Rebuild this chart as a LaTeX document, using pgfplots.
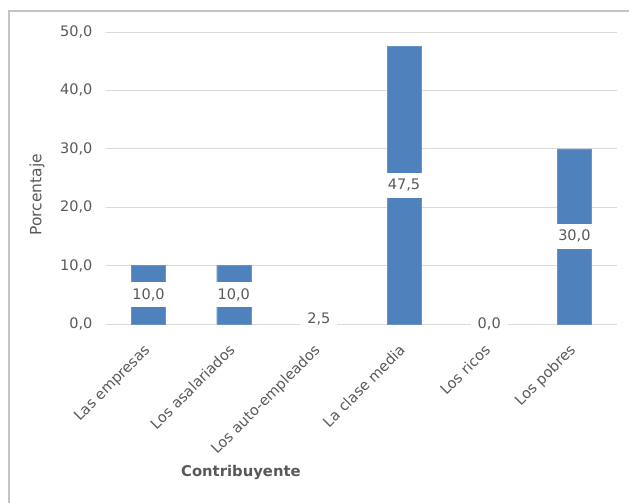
\documentclass[border=0pt]{standalone}
\usepackage{fontspec}
\setmainfont{DejaVu Sans}
\usepackage{pgfplots}
\pgfplotsset{compat=1.18}
\definecolor{barblue}{HTML}{4F81BD}
\definecolor{txtgray}{HTML}{595959}
\definecolor{gridgray}{HTML}{D9D9D9}
\definecolor{framegray}{HTML}{C4C4C4}
\begin{document}
\begin{tikzpicture}
\useasboundingbox (0,0) rectangle (629pt,-503pt);
\draw[framegray, line width=1.5pt] (9pt,-503pt) -- (9pt,-11pt) -- (629pt,-11pt);
\begin{axis}[
  at={(106pt,-324pt)}, anchor=south west,
  width=511pt, height=292pt, scale only axis,
  xmin=-0.5, xmax=5.5, ymin=0, ymax=50,
  clip=false,
  xtick={0,...,5},
  xticklabels={Las empresas, Los asalariados, Los auto-empleados, La clase media, Los ricos, Los pobres},
  ytick={0,10,...,50},
  major tick length=0pt,
  ymajorgrids, grid style={gridgray, line width=1pt},
  axis line style={draw=none},
  /pgf/number format/.cd, fixed, fixed zerofill, precision=1, use comma, assume math mode=true,
  /pgfplots/.cd,
  yticklabel style={font=\fontsize{14.5}{17}\selectfont, text=txtgray, anchor=east, xshift=-10pt},
  xticklabel style={font=\fontsize{14.5}{17}\selectfont, text=txtgray, xshift=2pt, yshift=-27pt, rotate=45, anchor=base east, inner sep=0pt},
  ylabel={Porcentaje},
  ylabel style={font=\fontsize{15.5}{18}\selectfont, text=txtgray, at={(axis description cs:-0.135,0.442)}, anchor=center},
  xlabel={Contribuyente},
  xlabel style={font=\bfseries\fontsize{14.8}{18}\selectfont, text=txtgray, at={(axis description cs:0.264,-0.507)}, anchor=center},
]
\addplot[ybar, bar width=34pt, fill=barblue, draw=barblue!85!white] coordinates {
  (0,10) (1,10) (2,2.5) (3,47.5) (4,0) (5,30)
};
\addplot[draw=none, mark=none, nodes near coords, point meta=explicit symbolic,
  every node near coord/.style={anchor=center, fill=white, text=txtgray,
    font=\fontsize{14.5}{17}\selectfont, inner xsep=5pt, inner ysep=0pt,
    minimum height=25pt, minimum width=37pt}] coordinates {
  (0,5) [10,0]
  (1,5) [10,0]
  (2,0.8) [2,5]
  (3,23.75) [47,5]
  (4,0) [0,0]
  (5,15) [30,0]
};
\end{axis}
\end{tikzpicture}
\end{document}
